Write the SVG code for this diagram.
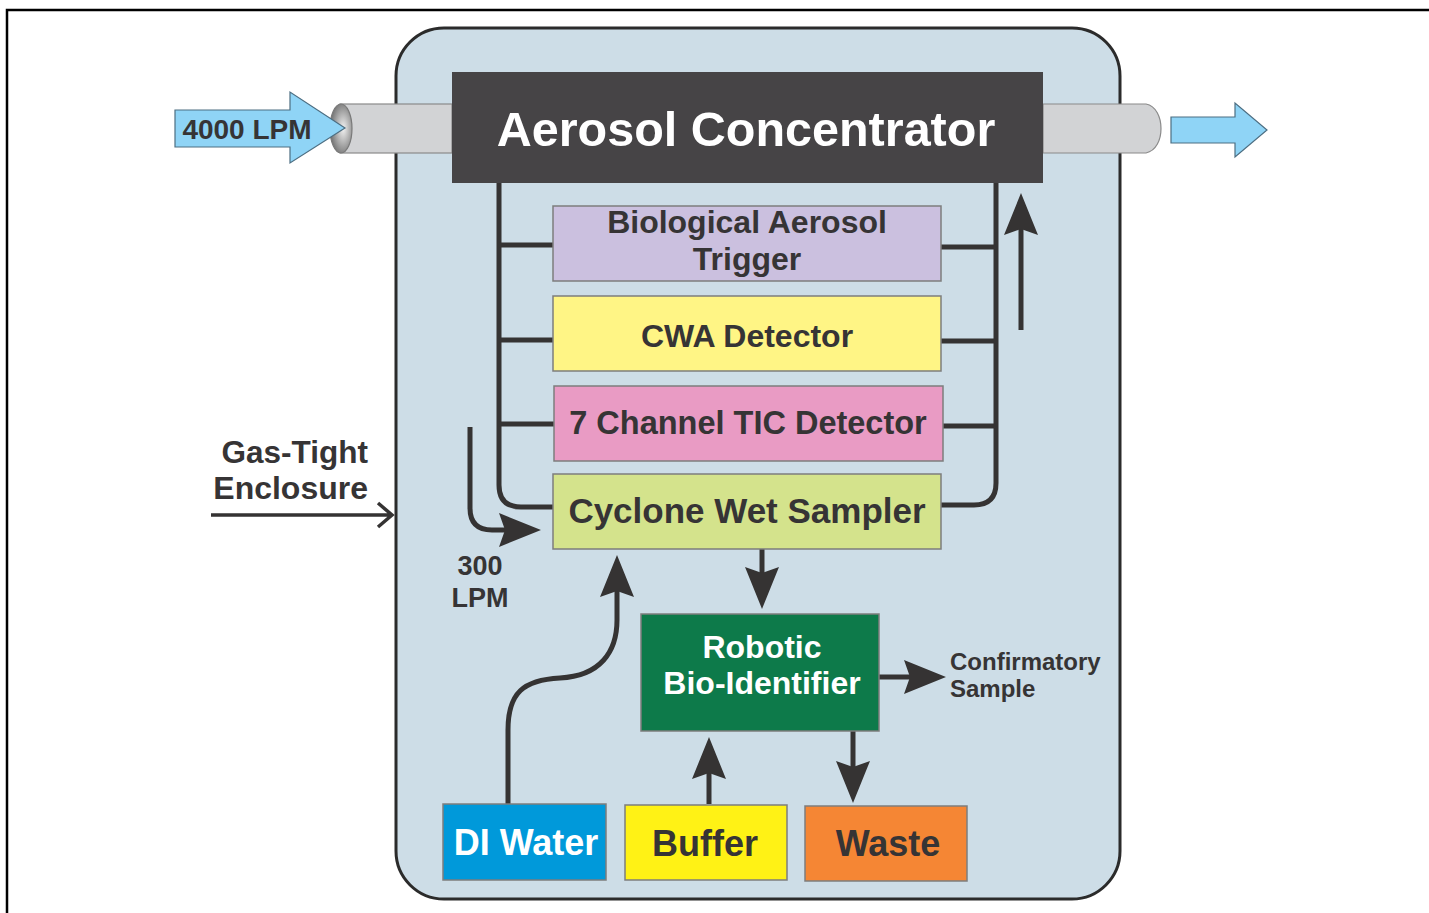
<svg xmlns="http://www.w3.org/2000/svg" width="1429" height="913" viewBox="0 0 1429 913">
<style>
  .t { font-family: "Liberation Sans", Arial, sans-serif; font-weight: bold; fill: #363435; text-anchor: middle; }
  .w { fill: #ffffff; }
  .box { stroke: #7d7d7d; stroke-width: 1.5; }
  .con { fill: none; stroke: #353333; stroke-width: 5; }
  .arr { marker-end: url(#ah); }
</style>
<defs>
  <marker id="ah" markerUnits="userSpaceOnUse" viewBox="0 0 42 34" markerWidth="42" markerHeight="34" refX="21" refY="17" orient="auto">
    <path d="M0,0 L42,17 L0,34 L6,17 z" fill="#353333"/>
  </marker>
  <radialGradient id="hole" cx="0.6" cy="0.5" r="0.6">
    <stop offset="0" stop-color="#f2f2f2"/>
    <stop offset="1" stop-color="#6f6f6f"/>
  </radialGradient>
</defs>

<!-- frame -->
<path d="M7,913 V10 H1429" fill="none" stroke="#000" stroke-width="2.5"/>

<!-- enclosure -->
<g id="enclosure">
  <rect x="396" y="28" width="724" height="871" rx="48" fill="#cddde7" stroke="#2b2b2b" stroke-width="3"/>
</g>

<!-- pipes -->
<g id="pipe-in">
  <rect x="340" y="104" width="112" height="49" fill="#d2d3d5" stroke="#8a8a8a" stroke-width="1.2"/>
  <ellipse cx="341" cy="128.5" rx="11" ry="24.5" fill="url(#hole)" stroke="#7a7a7a" stroke-width="1.2"/>
</g>
<g id="pipe-out">
  <path d="M1043,104 H1146 C1156,106 1161,117 1161,128.5 C1161,140 1156,151 1146,153 H1043 Z" fill="#d2d3d5" stroke="#8a8a8a" stroke-width="1.2"/>
</g>

<!-- flow arrows -->
<g id="inflow">
  <polygon points="175,110 290,110 290,92 345,128 290,163 290,147 175,147" fill="#8fd4f6" stroke="#4d6e82" stroke-width="1.2"/>
  <text class="t" x="247" y="139" font-size="28">4000 LPM</text>
</g>
<g id="outflow">
  <polygon points="1171,117 1235,117 1235,103 1267,130 1235,157 1235,143 1171,143" fill="#8fd4f6" stroke="#4d6e82" stroke-width="1.2"/>
</g>

<!-- connectors -->
<g id="connectors">
  <path class="con" d="M499,183 V485 Q499,507 521,507 H553"/>
  <path class="con" d="M499,245 H553 M499,340 H553 M499,424 H554"/>
  <path class="con" d="M996,183 V483 Q996,505 974,505 H941"/>
  <path class="con" d="M941,247 H996 M941,341 H996 M943,426 H996"/>
  <path class="con arr" d="M1021,330 V214"/>
  <path class="con arr" d="M470,427 V508 Q470,530 492,530 H520"/>
  <path class="con arr" d="M762,549 V588"/>
  <path class="con arr" d="M508,804 V730 C508,692 524,680 560,678 C600,676 617,652 617,620 V576"/>
  <path class="con arr" d="M709,804 V758"/>
  <path class="con arr" d="M853,731 V782"/>
  <path class="con arr" d="M879,677 H925"/>
  <path d="M211,515 H391 M378,503 L392,515 L378,527" fill="none" stroke="#353333" stroke-width="3.5"/>
</g>

<!-- nodes -->
<g id="aerosol-concentrator">
  <rect x="452" y="72" width="591" height="111" fill="#464446"/>
  <text class="t w" x="746" y="146" font-size="48.5">Aerosol Concentrator</text>
</g>
<g id="bio-trigger">
  <rect class="box" x="553" y="206" width="388" height="75" fill="#cbc0df"/>
  <text class="t" x="747" y="233" font-size="32">Biological Aerosol</text>
  <text class="t" x="747" y="270" font-size="32">Trigger</text>
</g>
<g id="cwa-detector">
  <rect class="box" x="553" y="296" width="388" height="75" fill="#fff585"/>
  <text class="t" x="747" y="347" font-size="32">CWA Detector</text>
</g>
<g id="tic-detector">
  <rect class="box" x="554" y="386" width="389" height="75" fill="#e99bc4"/>
  <text class="t" x="748" y="434" font-size="32.5">7 Channel TIC Detector</text>
</g>
<g id="cyclone">
  <rect class="box" x="553" y="474" width="388" height="75" fill="#d4e38c"/>
  <text class="t" x="747" y="523" font-size="35">Cyclone Wet Sampler</text>
</g>
<g id="robotic">
  <rect class="box" x="641" y="614" width="238" height="117" fill="#0d7a4a"/>
  <text class="t w" x="762" y="658" font-size="32">Robotic</text>
  <text class="t w" x="762" y="694" font-size="32">Bio-Identifier</text>
</g>
<g id="di-water">
  <rect class="box" x="443" y="804" width="163" height="76" fill="#0099da"/>
  <text class="t w" x="526" y="855" font-size="36">DI Water</text>
</g>
<g id="buffer">
  <rect class="box" x="625" y="805" width="162" height="75" fill="#fff215"/>
  <text class="t" x="705" y="856" font-size="36">Buffer</text>
</g>
<g id="waste">
  <rect class="box" x="805" y="806" width="162" height="75" fill="#f58634"/>
  <text class="t" x="888" y="856" font-size="36">Waste</text>
</g>

<!-- labels -->
<g id="labels">
  <text class="t" x="368" y="463" font-size="31.5" style="text-anchor:end">Gas-Tight</text>
  <text class="t" x="368" y="499" font-size="32" style="text-anchor:end">Enclosure</text>
  <text class="t" x="480" y="575" font-size="27">300</text>
  <text class="t" x="480" y="607" font-size="27">LPM</text>
  <text class="t" x="950" y="670" font-size="24" style="text-anchor:start">Confirmatory</text>
  <text class="t" x="950" y="697" font-size="24" style="text-anchor:start">Sample</text>
</g>
</svg>
